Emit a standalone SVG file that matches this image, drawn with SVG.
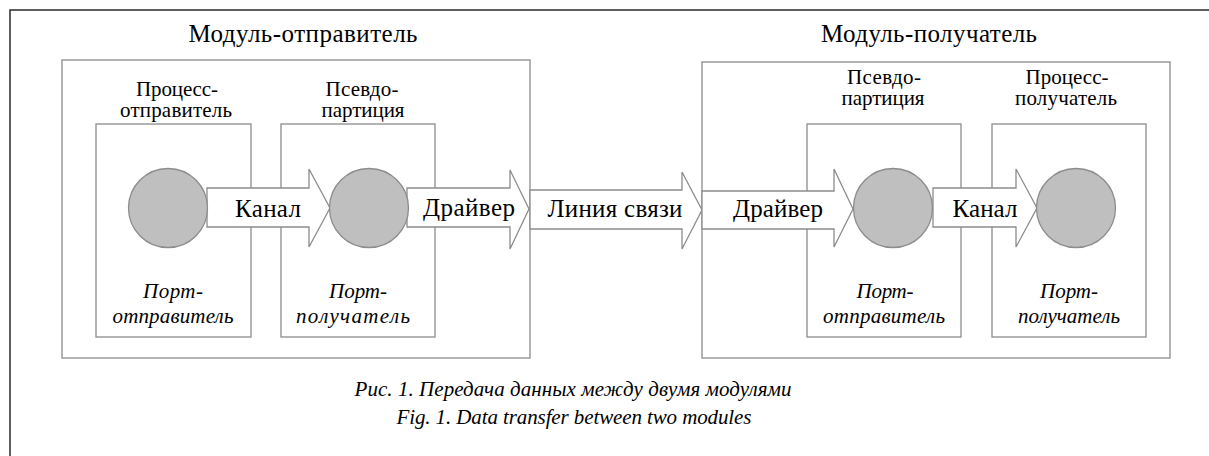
<svg xmlns="http://www.w3.org/2000/svg" width="1209" height="456" viewBox="0 0 1209 456">
<rect width="1209" height="456" fill="#ffffff"/>
<path d="M10,470 V10 H1220" fill="none" stroke="#2a2a2a" stroke-width="1.5"/>

<g id="module-sender">
  <rect x="62" y="60" width="468" height="298" fill="none" stroke="#8c8c8c" stroke-width="1.3"/>
  <text font-family="Liberation Serif" font-size="25" x="188.5" y="42" textLength="229" lengthAdjust="spacing">Модуль-отправитель</text>
</g>
<g id="process-sender">
  <rect x="96" y="124" width="155" height="213" fill="none" stroke="#8c8c8c" stroke-width="1.3"/>
  <text font-family="Liberation Serif" font-size="21" x="136" y="96" textLength="82" lengthAdjust="spacing">Процесс-</text>
  <text font-family="Liberation Serif" font-size="21" x="120" y="117" textLength="112" lengthAdjust="spacing">отправитель</text>
  <text font-family="Liberation Serif" font-size="21" font-style="italic" x="143" y="298" textLength="60" lengthAdjust="spacing">Порт-</text>
  <text font-family="Liberation Serif" font-size="21" font-style="italic" x="112.5" y="323" textLength="121" lengthAdjust="spacing">отправитель</text>
</g>
<g id="pseudo-partition-sender">
  <rect x="281" y="124" width="154" height="213" fill="none" stroke="#8c8c8c" stroke-width="1.3"/>
  <text font-family="Liberation Serif" font-size="21" x="325.5" y="96" textLength="73" lengthAdjust="spacing">Псевдо-</text>
  <text font-family="Liberation Serif" font-size="21" x="321.5" y="117" textLength="83" lengthAdjust="spacing">партиция</text>
  <text font-family="Liberation Serif" font-size="21" font-style="italic" x="329" y="298" textLength="58" lengthAdjust="spacing">Порт-</text>
  <text font-family="Liberation Serif" font-size="21" font-style="italic" x="296" y="323" textLength="114" lengthAdjust="spacing">получатель</text>
</g>
<g id="module-receiver">
  <rect x="702" y="62" width="468" height="296" fill="none" stroke="#8c8c8c" stroke-width="1.3"/>
  <text font-family="Liberation Serif" font-size="25" x="821" y="42" textLength="216" lengthAdjust="spacing">Модуль-получатель</text>
</g>
<g id="pseudo-partition-receiver">
  <rect x="807" y="124" width="154" height="213" fill="none" stroke="#8c8c8c" stroke-width="1.3"/>
  <text font-family="Liberation Serif" font-size="21" x="847" y="84" textLength="74" lengthAdjust="spacing">Псевдо-</text>
  <text font-family="Liberation Serif" font-size="21" x="841.5" y="105" textLength="83" lengthAdjust="spacing">партиция</text>
  <text font-family="Liberation Serif" font-size="21" font-style="italic" x="856.5" y="298" textLength="57" lengthAdjust="spacing">Порт-</text>
  <text font-family="Liberation Serif" font-size="21" font-style="italic" x="823" y="323" textLength="122" lengthAdjust="spacing">отправитель</text>
</g>
<g id="process-receiver">
  <rect x="992" y="124" width="154" height="213" fill="none" stroke="#8c8c8c" stroke-width="1.3"/>
  <text font-family="Liberation Serif" font-size="21" x="1025.5" y="84" textLength="83" lengthAdjust="spacing">Процесс-</text>
  <text font-family="Liberation Serif" font-size="21" x="1015" y="105" textLength="102" lengthAdjust="spacing">получатель</text>
  <text font-family="Liberation Serif" font-size="21" font-style="italic" x="1040" y="298" textLength="58" lengthAdjust="spacing">Порт-</text>
  <text font-family="Liberation Serif" font-size="21" font-style="italic" x="1018" y="323" textLength="102" lengthAdjust="spacing">получатель</text>
</g>

<g id="connectors" fill="#ffffff" stroke="#8c8c8c" stroke-width="1.3">
  <g id="arrow-kanal-1">
    <path d="M207,188 H309 V169 L330,208 L309,247 V227 H207 Z"/>
    <text font-family="Liberation Serif" font-size="25" fill="#000000" stroke="none" x="235" y="217" textLength="66" lengthAdjust="spacing">Канал</text>
  </g>
  <g id="arrow-driver-1">
    <path d="M407,188 H510 V170 L529,209 L510,249 V227 H407 Z"/>
    <text font-family="Liberation Serif" font-size="25" fill="#000000" stroke="none" x="423" y="216" textLength="92" lengthAdjust="spacing">Драйвер</text>
  </g>
  <g id="arrow-link">
    <path d="M530,190 H682 V172 L702,210 L682,249 V229 H530 Z"/>
    <text font-family="Liberation Serif" font-size="25" fill="#000000" stroke="none" x="547.5" y="217" textLength="135" lengthAdjust="spacing">Линия связи</text>
  </g>
  <g id="arrow-driver-2">
    <path d="M702,191 H834 V169 L853,209 L834,247 V229 H702 Z"/>
    <text font-family="Liberation Serif" font-size="25" fill="#000000" stroke="none" x="733" y="217" textLength="90" lengthAdjust="spacing">Драйвер</text>
  </g>
  <g id="arrow-kanal-2">
    <path d="M933,188 H1016 V169 L1037,208 L1016,247 V227 H933 Z"/>
    <text font-family="Liberation Serif" font-size="25" fill="#000000" stroke="none" x="952.5" y="217" textLength="65" lengthAdjust="spacing">Канал</text>
  </g>
</g>

<g id="ports" fill="#bfbfbf" stroke="#8c8c8c" stroke-width="1.3">
  <circle cx="168" cy="208" r="39.5"/>
  <circle cx="369" cy="208" r="39.5"/>
  <circle cx="893" cy="208" r="39.5"/>
  <circle cx="1076" cy="208" r="39.5"/>
</g>

<g id="caption">
  <text font-family="Liberation Serif" font-size="21" font-style="italic" x="354.5" y="396" textLength="437" lengthAdjust="spacing">Рис. 1. Передача данных между двумя модулями</text>
  <text font-family="Liberation Serif" font-size="21" font-style="italic" x="396.5" y="424" textLength="355" lengthAdjust="spacing">Fig. 1. Data transfer between two modules</text>
</g>
</svg>
